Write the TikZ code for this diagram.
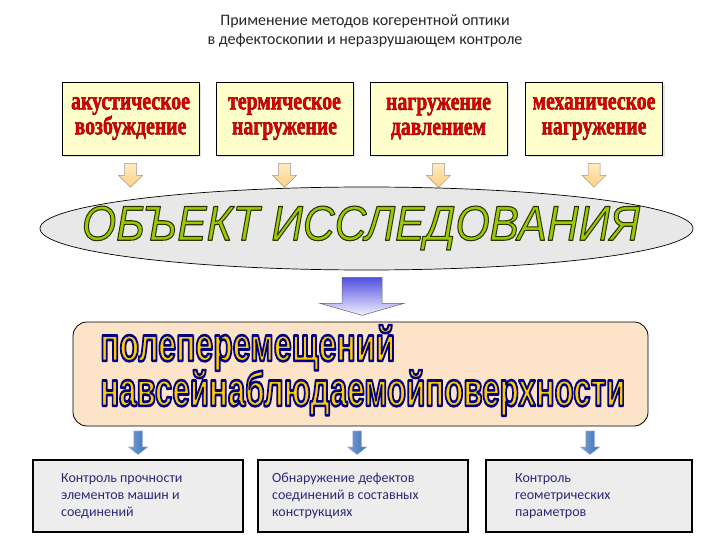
\documentclass[tikz,border=0pt]{standalone}
\usepackage{fontspec}
\setmainfont{Carlito}
\newfontfamily\tnr{Liberation Serif}
\newfontfamily\arl{Liberation Sans}
\usetikzlibrary{shapes.geometric,shadows,calc}
\definecolor{topfill}{HTML}{FFFFCC}
\definecolor{redtxt}{HTML}{E00000}
\definecolor{ellfill}{HTML}{E8E8E8}
\definecolor{objfill}{HTML}{99CC00}
\definecolor{peach}{HTML}{FDE3C8}
\definecolor{gold}{HTML}{FFCC00}
\definecolor{boxgray}{HTML}{EDEDED}
\definecolor{btxt}{HTML}{2A2A78}
\definecolor{orA}{HTML}{FFEBC0}
\definecolor{orB}{HTML}{FFCF80}
\definecolor{blA}{HTML}{7DA3D6}
\definecolor{blB}{HTML}{3A6DB0}
\definecolor{puA}{HTML}{5050E0}
\definecolor{puB}{HTML}{F4F0FF}
% outlined text via PDF text render mode: fill colour, stroke rgb, stroke width, text
\newcommand\olt[4]{\special{pdf:literal direct q}%
 \textcolor{#1}{\special{pdf:literal direct #2 RG #3 w 1 j 1 J 2 Tr}#4\special{pdf:literal direct 0 Tr}}%
 \special{pdf:literal direct Q}}
\newcommand\redl[1]{\scalebox{0.76}[1]{\olt{redtxt}{0.55 0 0}{0.5}{#1}}}
\newcommand\blkarrow[6]{%
 \begin{scope}[shift={(#1)}]
 \path[#6] (-#2/2,0) -- (#2/2,0) -- (#2/2,#4) -- (#3/2,#4) -- (0,#5) -- (-#3/2,#4) -- (-#2/2,#4) -- cycle;
 \end{scope}}
\tikzset{
 topbox/.style={draw=black, line width=0.7pt, fill=topfill, minimum width=137pt, minimum height=73pt, inner sep=0pt,
   align=center, font=\tnr\bfseries\fontsize{26}{25}\selectfont,
   drop shadow={shadow xshift=2pt, shadow yshift=-2pt, fill=black!20}},
 botbox/.style={draw=black, line width=2.2pt, fill=boxgray, minimum height=72pt, inner sep=0pt},
 bottext/.style={anchor=west, align=left, text=btxt, inner sep=0pt, font=\fontsize{14}{17}\selectfont},
 orarrow/.style={draw=black!40, line width=0.5pt, top color=orA, bottom color=orB},
 blarrow/.style={draw=white!80!blue, line width=0.4pt, left color=blA, right color=blB},
 puarrow/.style={draw=black!60, line width=0.5pt, top color=puA, bottom color=puB},
 wordart/.style={anchor=west, inner sep=0pt, font=\arl\bfseries\fontsize{48}{48}\selectfont}
}
\begin{document}
\begin{tikzpicture}[x=1pt,y=-1pt]
\useasboundingbox (0,0) rectangle (720,540);
% title
\node[align=center, text=black!85, font=\fontsize{16}{18.5}\selectfont] (title) at (365,31)
  {Применение методов когерентной оптики\\в дефектоскопии и неразрушающем контроле};
% top boxes
\node[topbox] (b1) at (130.5,118.5) {\redl{акустическое}\\\redl{возбуждение}};
\node[topbox] (b2) at (284.5,118.5) {\redl{термическое}\\\redl{нагружение}};
\node[topbox] (b3) at (438.5,118.5) {\redl{нагружение}\\\redl{давлением}};
\node[topbox] (b4) at (594,118.5) {\redl{механическое}\\\redl{нагружение}};
% orange arrows
\blkarrow{$(b1.south)+(0,8)$}{12}{24}{12}{24}{orarrow}
\blkarrow{$(b2.south)+(0,8)$}{12}{24}{12}{24}{orarrow}
\blkarrow{$(b3.south)+(0,8)$}{12}{24}{12}{24}{orarrow}
\blkarrow{$(b4.south)+(0,8)$}{12}{24}{12}{24}{orarrow}
% ellipse
\node[draw=black, line width=0.7pt, ellipse, fill=ellfill, minimum width=653pt, minimum height=83pt, inner sep=0pt] (obj) at (366.5,228.5) {};
\node[inner sep=0pt, font=\arl\itshape\fontsize{49}{50}\selectfont] (objtext) at (361,228)
  {\resizebox{558pt}{\height}{\olt{objfill}{0.18 0.2 0}{1.1}{ОБЪЕКТ ИССЛЕДОВАНИЯ}}};
% purple arrow
\blkarrow{$(obj.south)+(-4.5,7)$}{40}{84}{26}{38}{puarrow}
% rounded rect
\node[draw=black, line width=0.8pt, rounded corners=14pt, fill=peach, minimum width=575pt, minimum height=104pt] (field) at (360.5,374) {};
\node[wordart] (f1) at (100,348)
  {\resizebox{295pt}{\height}{\olt{gold}{0 0 0.5}{2.6}{полеперемещений}}};
\node[wordart] (f2) at (100,393)
  {\resizebox{525pt}{\height}{\olt{gold}{0 0 0.5}{2.6}{навсейнаблюдаемойповерхности}}};
% bottom boxes
\node[botbox, minimum width=210pt] (b5) at (138,496) {};
\node[botbox, minimum width=210pt] (b6) at (363,496) {};
\node[botbox, minimum width=206pt] (b7) at (589,496) {};
% blue arrows
\blkarrow{$(b5.north)+(0,-28)$}{9}{20}{16}{24}{blarrow}
\blkarrow{$(b6.north)+(-6,-28)$}{9}{20}{16}{24}{blarrow}
\blkarrow{$(b7.north)+(1,-28)$}{9}{20}{16}{24}{blarrow}
% bottom texts
\node[bottext] (t5) at ($(b5.west)+(29,0)$) {Контроль прочности\\элементов машин и\\соединений};
\node[bottext] (t6) at ($(b6.west)+(15,0)$) {Обнаружение дефектов\\соединений в составных\\конструкциях};
\node[bottext] (t7) at ($(b7.west)+(30,0)$) {Контроль\\геометрических\\параметров};
\end{tikzpicture}
\end{document}
